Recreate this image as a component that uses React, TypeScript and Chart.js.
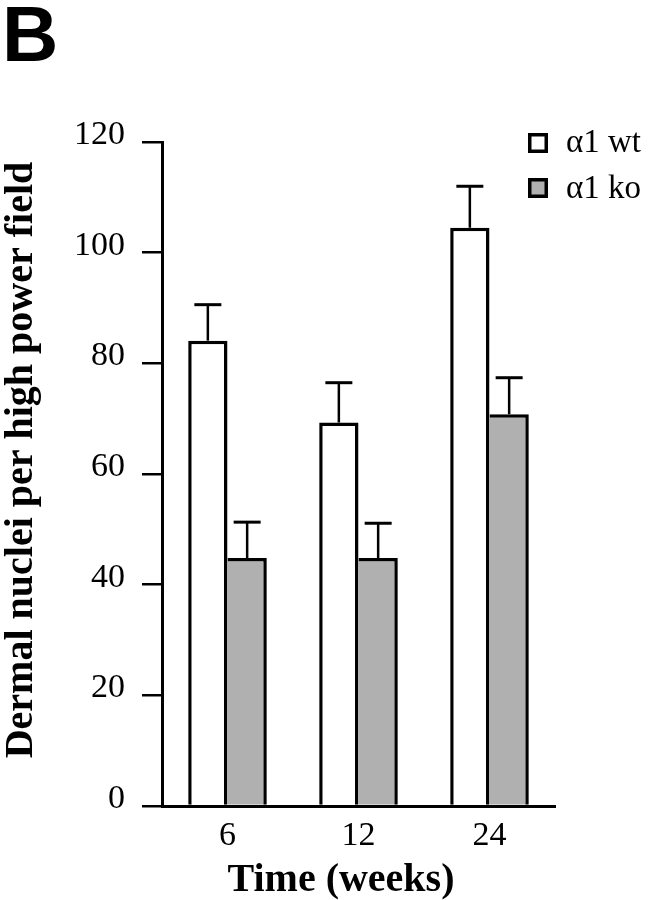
import React, { useEffect, useRef } from "react";
import { Chart, registerables } from "chart.js";

Chart.register(...registerables);

const categories = ["6", "12", "24"];
const wtValues = [84.1, 69.3, 104.5];
const wtErrors = [6.5, 7.2, 7.5];
const koValues = [44.8, 44.8, 70.8];
const koErrors = [6.5, 6.3, 6.6];
const seriesLabels = ["\u03b11 wt", "\u03b11 ko"];
const yTitle = "Dermal nuclei per high power field";
const xTitle = "Time (weeks)";
const panelLabel = "B";
const yMin = 0;
const yMax = 120;
const yStep = 20;

const SERIF = "'Liberation Serif', 'Times New Roman', serif";
const SANS = "'Liberation Sans', Arial, sans-serif";
const KO_FILL = "#b0b0b0";

const errorBarPlugin = {
  id: "errorBars",
  afterDatasetsDraw(chart: any) {
    const ctx = chart.ctx;
    const yScale = chart.scales.y;
    ctx.save();
    ctx.strokeStyle = "#000";
    chart.data.datasets.forEach((ds: any, i: number) => {
      const meta = chart.getDatasetMeta(i);
      meta.data.forEach((bar: any, j: number) => {
        const v = ds.data[j];
        const e = ds.errors[j];
        const x = bar.x;
        const yTop = yScale.getPixelForValue(v);
        const yErr = yScale.getPixelForValue(v + e);
        ctx.lineWidth = 2.5;
        ctx.beginPath();
        ctx.moveTo(x, yTop);
        ctx.lineTo(x, yErr);
        ctx.stroke();
        ctx.lineWidth = 3;
        ctx.beginPath();
        ctx.moveTo(x - 13.5, yErr);
        ctx.lineTo(x + 13.5, yErr);
        ctx.stroke();
      });
    });
    ctx.restore();
  },
};

const decorPlugin = {
  id: "decor",
  afterDraw(chart: any) {
    const ctx = chart.ctx;
    ctx.save();
    ctx.fillStyle = "#000";
    // panel label
    ctx.font = `bold 78px ${SANS}`;
    ctx.textAlign = "left";
    ctx.textBaseline = "alphabetic";
    ctx.fillText(panelLabel, 2, 61);
    // x title
    ctx.font = `bold 40px ${SERIF}`;
    ctx.textAlign = "center";
    ctx.fillText(xTitle, 341, 891);
    // y title
    ctx.save();
    ctx.translate(32, 460);
    ctx.rotate(-Math.PI / 2);
    ctx.fillText(yTitle, 0, 0);
    ctx.restore();
    // legend
    const boxTops = [133, 178];
    const baselines = [152, 198];
    chart.data.datasets.forEach((ds: any, i: number) => {
      ctx.fillStyle = ds.backgroundColor;
      ctx.fillRect(528, boxTops[i], 20, 20);
      ctx.strokeStyle = "#000";
      ctx.lineWidth = 3.5;
      ctx.strokeRect(529.75, boxTops[i] + 1.75, 16.5, 16.5);
      ctx.fillStyle = "#000";
      ctx.font = `33px ${SERIF}`;
      ctx.textAlign = "left";
      ctx.fillText(ds.label, 566, baselines[i]);
    });
    ctx.restore();
  },
};

export default function App() {
  const canvasRef = useRef<HTMLCanvasElement | null>(null);

  useEffect(() => {
    const canvas = canvasRef.current;
    if (!canvas) return;
    const chart = new Chart(canvas, {
      type: "bar",
      data: {
        labels: categories,
        datasets: [
          {
            label: seriesLabels[0],
            data: wtValues,
            errors: wtErrors,
            backgroundColor: "#ffffff",
            borderColor: "#000000",
            borderWidth: { top: 3.5, left: 3.5, right: 3.5, bottom: 0 },
            borderSkipped: false,
          } as any,
          {
            label: seriesLabels[1],
            data: koValues,
            errors: koErrors,
            backgroundColor: KO_FILL,
            borderColor: "#000000",
            borderWidth: { top: 3.5, left: 0, right: 3.5, bottom: 0 },
            borderSkipped: false,
          } as any,
        ],
      },
      options: {
        animation: false,
        responsive: false,
        maintainAspectRatio: false,
        devicePixelRatio: 1,
        layout: { padding: { top: 142, right: 94, left: 0, bottom: 0 } },
        datasets: { bar: { categoryPercentage: 0.6, barPercentage: 1.0 } },
        plugins: {
          legend: { display: false },
          tooltip: { enabled: false },
          title: { display: false },
        },
        scales: {
          x: {
            offset: true,
            grid: { display: false },
            border: { display: true, color: "#000", width: 3 },
            ticks: {
              color: "#000",
              font: { family: SERIF, size: 34 },
              padding: 2,
              maxRotation: 0,
            },
            afterFit: (scale: any) => {
              scale.height = 94;
            },
          },
          y: {
            min: yMin,
            max: yMax,
            grid: {
              drawOnChartArea: false,
              drawTicks: true,
              tickLength: 20,
              color: "#000",
              lineWidth: 2.5,
            },
            border: { display: true, color: "#000", width: 3 },
            ticks: {
              stepSize: yStep,
              color: "#000",
              font: { family: SERIF, size: 34 },
              padding: 17,
              labelOffset: -7,
            },
            afterFit: (scale: any) => {
              scale.width = 162;
            },
          },
        },
      },
      plugins: [errorBarPlugin, decorPlugin],
    } as any);
    return () => chart.destroy();
  }, []);

  return (
    <div style={{ position: "absolute", left: 0, top: 0, width: 649, height: 900, background: "#fff" }}>
      <canvas ref={canvasRef} width={649} height={900} style={{ width: 649, height: 900, display: "block" }} />
    </div>
  );
}
